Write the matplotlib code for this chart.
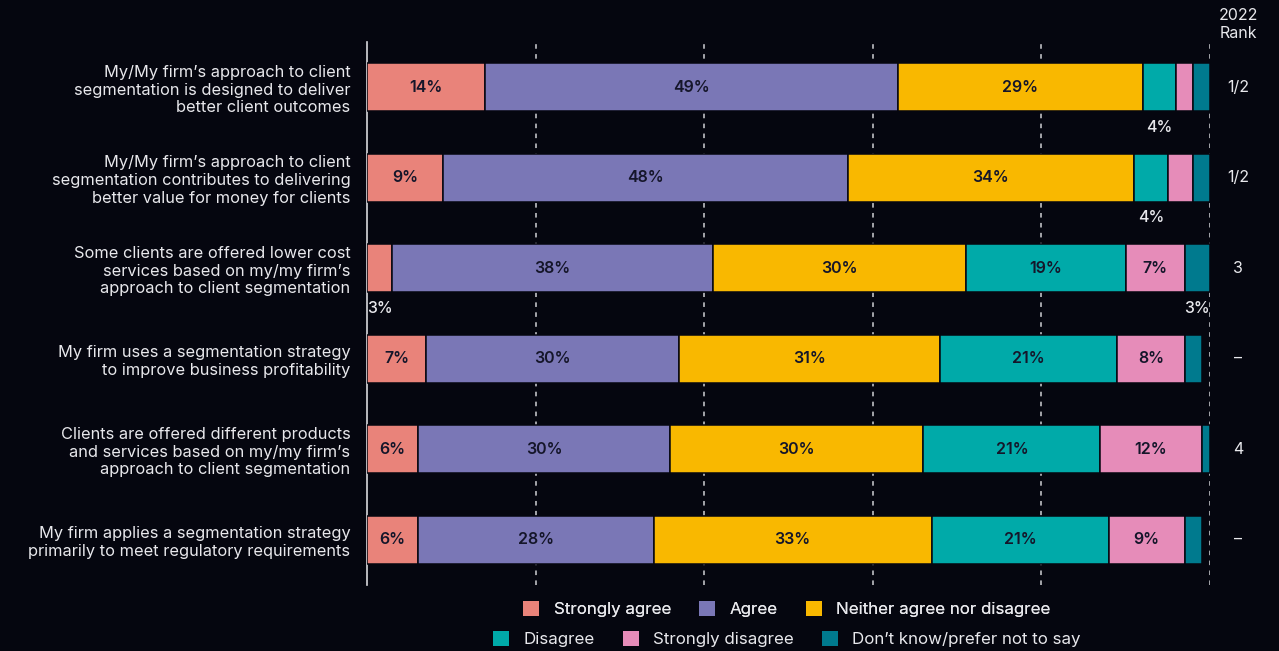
import matplotlib.pyplot as plt
from matplotlib.patches import Patch

plt.rcParams['font.family'] = ['Inter', 'DejaVu Sans']

statements = [
    "My/My firm\u2019s approach to client\nsegmentation is designed to deliver\nbetter client outcomes",
    "My/My firm\u2019s approach to client\nsegmentation contributes to delivering\nbetter value for money for clients",
    "Some clients are offered lower cost\nservices based on my/my firm\u2019s\napproach to client segmentation",
    "My firm uses a segmentation strategy\nto improve business profitability",
    "Clients are offered different products\nand services based on my/my firm\u2019s\napproach to client segmentation",
    "My firm applies a segmentation strategy\nprimarily to meet regulatory requirements",
]
ranks = ["1/2", "1/2", "3", "\u2013", "4", "\u2013"]

responses = ["Strongly agree", "Agree", "Neither agree nor disagree",
             "Disagree", "Strongly disagree", "Don\u2019t know/prefer not to say"]
strongly_agree = [14, 9, 3, 7, 6, 6]
agree = [49, 48, 38, 30, 30, 28]
neither = [29, 34, 30, 31, 30, 33]
disagree = [4, 4, 19, 21, 21, 21]
strongly_disagree = [2, 3, 7, 8, 12, 9]
dont_know = [2, 2, 3, 2, 1, 2]

# (row, series) labels that sit below the bar instead of inside it
outside_labels = [(0, 3), (1, 3), (2, 0), (2, 5)]

colors = ["#e9837a", "#7a77b6", "#f9b800", "#00aaa9", "#e68cb9", "#007a8e"]
bg = "#05060f"
light = "#e8e8ec"

fig = plt.figure(figsize=(12.79, 6.51), dpi=100, facecolor=bg)
ax = fig.add_axes([367 / 1279, 66 / 651, 843 / 1279, 543 / 651])
ax.set_facecolor(bg)

series = [strongly_agree, agree, neither, disagree, strongly_disagree, dont_know]
rows = list(range(len(statements)))
left = [0] * len(statements)
lefts = []
for name, vals, col in zip(responses, series, colors):
    ax.barh(rows, vals, left=left, height=0.53, color=col, edgecolor=bg,
            linewidth=1.1, zorder=3)
    lefts.append(list(left))
    for i, (v, l) in enumerate(zip(vals, left)):
        if v >= 6:
            ax.text(l + v / 2, i, f"{v}%", ha="center", va="center",
                    color="#15162a", fontsize=11.5, fontweight="semibold", zorder=4)
    left = [a + b for a, b in zip(left, vals)]

for r, s in outside_labels:
    v = series[s][r]
    ax.text(lefts[s][r] + v / 2, r + 0.44, f"{v}%", ha="center", va="center",
            color=light, fontsize=11.5, fontweight="medium", zorder=4)

# gridlines
for gx in [20, 40, 60, 80, 100]:
    ax.axvline(gx, color="#cfcfd4", lw=1.1, ls=(0, (3, 3.5)), zorder=1)

ax.set_xlim(0, 100)
ax.set_ylim(5.5, -0.5)
ax.set_xticks([])
ax.set_yticks(rows, statements)
ax.tick_params(axis="y", length=0, pad=12, labelcolor=light, labelsize=11.8)
for lab in ax.get_yticklabels():
    lab.set_linespacing(1.22)
for side in ["top", "right", "bottom"]:
    ax.spines[side].set_visible(False)
ax.spines["left"].set_color("#d8d8dc")
ax.spines["left"].set_linewidth(1.2)

# 2022 rank column
for i, rk in enumerate(ranks):
    ax.text(103.3, i, rk, ha="center", va="center", color=light, fontsize=11.5)
fig.text(1238 / 1279, 1 - 24 / 651, "2022\nRank", ha="center", va="center",
         color=light, fontsize=11.5, linespacing=1.25)

handles = [Patch(facecolor=c, edgecolor="none") for c in colors]
legend_kw = dict(loc="center", ncol=3, frameon=False, fontsize=12.2,
                 labelcolor=light, handlelength=0.95, handleheight=0.95,
                 handletextpad=0.85, columnspacing=1.65)
leg1 = fig.legend(handles[:3], responses[:3],
                  bbox_to_anchor=(787 / 1279, 1 - 609 / 651), **legend_kw)
fig.legend(handles[3:], responses[3:],
           bbox_to_anchor=(787 / 1279, 1 - 639 / 651), **legend_kw)
fig.add_artist(leg1)

fig.savefig("out.png", dpi=100, facecolor=bg)
